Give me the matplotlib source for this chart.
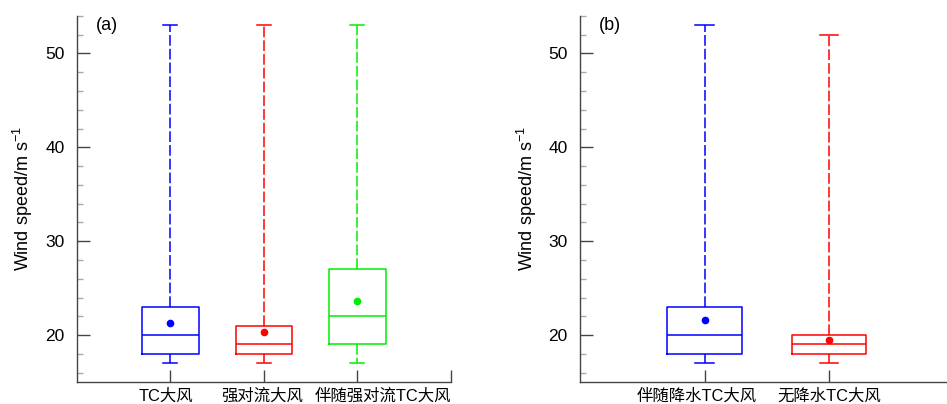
# -*- coding: utf-8 -*-
import matplotlib
matplotlib.use('Agg')
import matplotlib.pyplot as plt
import matplotlib.ticker as mtick

plt.rcParams['font.family'] = ['Liberation Sans', 'Noto Sans CJK SC', 'DejaVu Sans']
plt.rcParams['mathtext.fontset'] = 'custom'
plt.rcParams['mathtext.rm'] = 'Liberation Sans'

#----- data
cats_a = ['TC大风', '强对流大风', '伴随强对流TC大风']
whislo_a = [17, 17, 17]
q1_a = [18, 18, 19]
med_a = [20, 19, 22]
q3_a = [23, 21, 27]
whishi_a = [53, 53, 53]
mean_a = [21.3, 20.35, 23.6]
colors_a = ['#0000ff', '#ff0000', '#00ee00']

cats_b = ['伴随降水TC大风', '无降水TC大风']
whislo_b = [17, 17]
q1_b = [18, 18]
med_b = [20, 19]
q3_b = [23, 20]
whishi_b = [53, 52]
mean_b = [21.65, 19.5]
colors_b = ['#0000ff', '#ff0000']

ylabel = 'Wind speed/m s$^{-1}$'


def box_panel(ax, cats, lo, q1, med, q3, hi, mean, colors, xmax, tag, shifts):
    for i in range(len(cats)):
        st = [{'whislo': lo[i], 'q1': q1[i], 'med': med[i], 'q3': q3[i],
               'whishi': hi[i], 'mean': mean[i], 'fliers': []}]
        c = colors[i]
        ax.bxp(st, positions=[i + 1], widths=0.6, capwidths=0.15, showmeans=True,
               showfliers=False, manage_ticks=False,
               boxprops=dict(color=c, lw=1.1),
               medianprops=dict(color=c, lw=1.1),
               whiskerprops=dict(color=c, lw=1.1, linestyle=(0, (7, 2))),
               capprops=dict(color=c, lw=1.1),
               meanprops=dict(marker='o', markerfacecolor=c, markeredgecolor=c, markersize=4.5))

    ax.set_xlim(0, xmax)
    ax.set_ylim(15, 54)
    ax.spines['top'].set_visible(False)
    ax.spines['right'].set_visible(False)
    for s in ['left', 'bottom']:
        ax.spines[s].set_color('#444444')
        ax.spines[s].set_linewidth(1.0)

    ax.set_xticks(range(1, xmax + 1))
    ax.set_xticklabels([])
    # category names, not exactly centred on their ticks in the original
    for i, name in enumerate(cats):
        ax.annotate(name, xy=(i + 1, 0), xycoords=('data', 'axes fraction'),
                    xytext=(shifts[i], -4.5), textcoords='offset points',
                    ha='center', va='top', fontsize=11.8)
    ax.yaxis.set_major_locator(mtick.MultipleLocator(10))
    ax.yaxis.set_minor_locator(mtick.MultipleLocator(2))
    ax.tick_params(axis='x', direction='in', length=9, width=1.0, color='#444444', pad=4)
    ax.tick_params(axis='y', which='major', direction='in', length=9.5, width=1.0,
                   color='#444444', pad=9, labelsize=12.5)
    ax.tick_params(axis='y', which='minor', direction='in', length=4.5, width=1.0, color='#aaaaaa')
    ax.set_ylabel(ylabel, fontsize=13, labelpad=7)
    ax.text(0.05, 0.997, tag, transform=ax.transAxes, va='top', ha='left', fontsize=13)


fig = plt.figure(figsize=(9.47, 4.04), dpi=100)
ax1 = fig.add_axes([0.0813, 0.0545, 0.3949, 0.906])
ax2 = fig.add_axes([0.6128, 0.0545, 0.3941, 0.906])

box_panel(ax1, cats_a, whislo_a, q1_a, med_a, q3_a, whishi_a, mean_a, colors_a, 4, '(a)',
          [-3, -1.5, 18.5])
box_panel(ax2, cats_b, whislo_b, q1_b, med_b, q3_b, whishi_b, mean_b, colors_b, 3, '(b)',
          [-6, 0])

plt.savefig('out.png', dpi=100)
